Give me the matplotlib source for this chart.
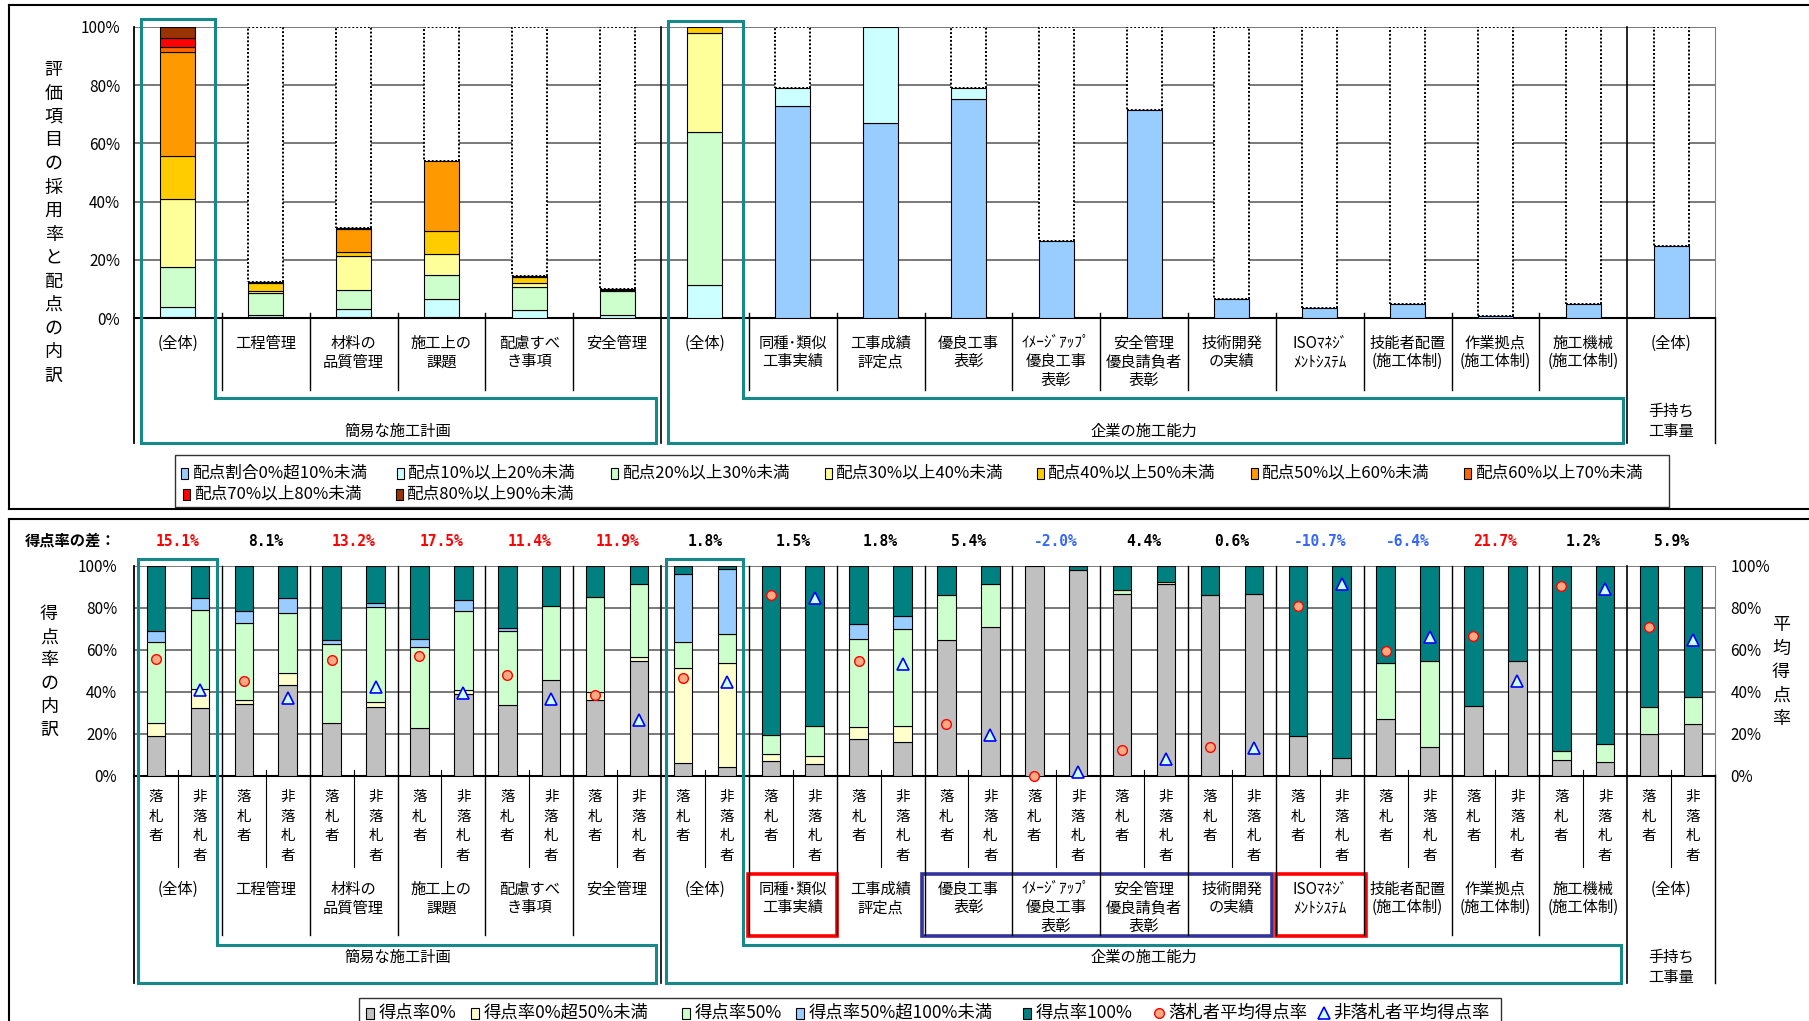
import matplotlib
matplotlib.use('Agg')
import matplotlib.pyplot as plt
import matplotlib.transforms as mtransforms
from matplotlib.patches import Rectangle, Polygon
import numpy as np

plt.rcParams['font.family'] = ['Noto Sans CJK JP', 'DejaVu Sans']

# ---------------- data ----------------
cat_labels = ['(全体)', '工程管理', '材料の\n品質管理', '施工上の\n課題', '配慮すべ\nき事項', '安全管理',
              '(全体)', '同種･類似\n工事実績', '工事成績\n評定点', '優良工事\n表彰',
              'ｲﾒｰｼﾞｱｯﾌﾟ\n優良工事\n表彰', '安全管理\n優良請負者\n表彰', '技術開発\nの実績',
              'ISOﾏﾈｼﾞ\nﾒﾝﾄｼｽﾃﾑ', '技能者配置\n(施工体制)', '作業拠点\n(施工体制)', '施工機械\n(施工体制)',
              '(全体)']
group_labels = ['簡易な施工計画', '企業の施工能力', '手持ち\n工事量']
group_spans = [(0, 6), (6, 17), (17, 18)]

# top: adoption rate of each item, split by share of points (%)
pts_names = ['配点割合0%超10%未満', '配点10%以上20%未満', '配点20%以上30%未満', '配点30%以上40%未満',
             '配点40%以上50%未満', '配点50%以上60%未満', '配点60%以上70%未満', '配点70%以上80%未満',
             '配点80%以上90%未満']
pts_colors = ['#99CCFF', '#CCFFFF', '#CCFFCC', '#FFFF99', '#FFCC00', '#FF9900', '#FF6600', '#FF0000', '#993300']
pts_00_10 = [0.3, 0.3, 0.5, 0.3, 0.0, 0.0, 0.0, 72.8, 66.9, 75.3, 26.5, 71.4, 6.5, 3.5, 4.8, 0.8, 4.8, 24.7]
pts_10_20 = [3.6, 0.9, 2.6, 6.2, 2.9, 1.3, 11.4, 6.3, 32.9, 3.6, 0, 0, 0, 0, 0, 0, 0, 0]
pts_20_30 = [13.6, 7.4, 6.5, 8.2, 7.7, 8.1, 52.4, 0, 0, 0, 0, 0, 0, 0, 0, 0, 0, 0]
pts_30_40 = [23.3, 0.9, 11.8, 7.4, 1.5, 0.3, 34.1, 0, 0, 0, 0, 0, 0, 0, 0, 0, 0, 0]
pts_40_50 = [14.9, 2.7, 1.2, 7.7, 2.0, 0.5, 2.1, 0, 0, 0, 0, 0, 0, 0, 0, 0, 0, 0]
pts_50_60 = [35.6, 0.4, 7.9, 24.0, 0.3, 0, 0, 0, 0, 0, 0, 0, 0, 0, 0, 0, 0, 0]
pts_60_70 = [1.8, 0, 0.4, 0, 0, 0, 0, 0, 0, 0, 0, 0, 0, 0, 0, 0, 0, 0]
pts_70_80 = [2.9, 0, 0, 0, 0, 0, 0, 0, 0, 0, 0, 0, 0, 0, 0, 0, 0, 0]
pts_80_90 = [4.0, 0, 0, 0, 0, 0, 0, 0, 0, 0, 0, 0, 0, 0, 0, 0, 0, 0]
pts_bands = [pts_00_10, pts_10_20, pts_20_30, pts_30_40, pts_40_50, pts_50_60, pts_60_70, pts_70_80, pts_80_90]

# bottom: score-rate breakdown, winners (落札者) and non-winners (非落札者)
score_names = ['得点率0%', '得点率0%超50%未満', '得点率50%', '得点率50%超100%未満', '得点率100%']
score_colors = ['#C0C0C0', '#FFFFCC', '#CCFFCC', '#99CCFF', '#008080']
win_0    = [19.0, 34.0, 24.9, 22.5, 33.5, 36.0, 5.9, 7.1, 17.3, 64.4, 100.0, 86.3, 86.0, 18.7, 27.0, 33.3, 7.5, 20.0]
win_lt50 = [5.9, 1.9, 0, 0, 0, 3.8, 45.2, 3.1, 6.0, 0, 0, 0, 0, 0, 0, 0, 0, 0]
win_50   = [38.9, 36.6, 37.6, 38.9, 35.5, 45.3, 12.4, 9.2, 41.8, 21.8, 0, 2.1, 0, 0, 26.8, 0, 4.2, 12.5]
win_gt50 = [4.9, 5.9, 2.1, 3.5, 1.5, 0, 32.4, 0, 7.0, 0, 0, 0, 0, 0, 0, 0, 0, 0]
win_100  = [31.3, 21.6, 35.4, 35.1, 29.5, 14.9, 4.1, 80.6, 27.9, 13.8, 0, 11.6, 14.0, 81.3, 46.2, 66.7, 88.3, 67.5]
lose_0    = [32.1, 43.0, 32.7, 39.0, 45.4, 54.6, 4.0, 5.4, 16.2, 71.0, 97.8, 91.1, 86.3, 8.4, 13.5, 54.8, 6.3, 24.6]
lose_lt50 = [9.3, 5.7, 2.5, 1.8, 0, 2.1, 49.5, 4.1, 7.6, 0, 0, 0, 0, 0, 0, 0, 0, 0]
lose_50   = [37.3, 28.9, 45.0, 37.5, 35.6, 34.6, 14.0, 14.2, 46.2, 20.1, 0, 1.3, 0, 0, 41.1, 0, 8.6, 13.0]
lose_gt50 = [6.1, 7.2, 2.0, 5.4, 0, 0, 30.8, 0, 6.0, 0, 0, 0, 0, 0, 0, 0, 0, 0]
lose_100  = [15.2, 15.2, 17.8, 16.3, 19.0, 8.7, 1.7, 76.3, 24.0, 8.9, 2.2, 7.6, 13.7, 91.6, 45.4, 45.2, 85.1, 62.4]
win_avg  = [55.7, 45.0, 55.3, 57.1, 47.8, 38.3, 46.6, 85.9, 54.8, 24.6, 0.0, 12.4, 13.6, 80.8, 59.6, 66.6, 90.2, 70.6]
lose_avg = [40.6, 36.9, 42.1, 39.6, 36.4, 26.4, 44.8, 84.4, 53.0, 19.2, 2.0, 8.0, 13.0, 91.5, 66.0, 44.9, 89.0, 64.7]
score_diff = [15.1, 8.1, 13.2, 17.5, 11.4, 11.9, 1.8, 1.5, 1.8, 5.4, -2.0, 4.4, 0.6, -10.7, -6.4, 21.7, 1.2, 5.9]
bidder_labels = ['落札者', '非落札者']

# ---------------- figure ----------------
W, H = 1809, 1021
fig = plt.figure(figsize=(W / 100, H / 100), dpi=100)


def rect(x0, y0, x1, y1):
    return [x0 / W, 1 - y1 / H, (x1 - x0) / W, (y1 - y0) / H]


ax1 = fig.add_axes(rect(134, 26.7, 1715, 318.3))
ax2 = fig.add_axes(rect(134, 565.7, 1715, 775.7))
ax2r = ax2.twinx()
ov = fig.add_axes([0, 0, 1, 1])
ov.set_xlim(0, W)
ov.set_ylim(H, 0)
ov.axis('off')

t1 = mtransforms.blended_transform_factory(ax1.transData, ov.transData)
t2 = mtransforms.blended_transform_factory(ax2.transData, ov.transData)

yt = [0, 20, 40, 60, 80, 100]
ylab = ['%d%%' % v for v in yt]

# ---- top panel
n = len(cat_labels)
xc = np.arange(n) + 0.5
base = np.zeros(n)
for vals, col in zip(pts_bands, pts_colors):
    v = np.array(vals, dtype=float)
    m = v > 0
    ax1.bar(xc[m], v[m], 0.4, bottom=base[m], color=col, edgecolor='black', linewidth=0.8, zorder=3)
    base += v
rest = 100 - base
m = rest > 0.5
ax1.bar(xc[m], rest[m], 0.4, bottom=base[m], color='white', edgecolor='black',
        linewidth=1.4, linestyle=(0, (1, 1)), zorder=2)

ax1.set_xlim(0, n)
ax1.set_ylim(0, 100)
ax1.set_xticks([])
ax1.set_yticks(yt)
ax1.set_yticklabels(ylab)
ax1.tick_params(axis='y', length=0, pad=10, labelsize=11)
ax1.set_axisbelow(True)
ax1.yaxis.grid(True, color='#555555', lw=1.1)
ax1.spines['top'].set_visible(False)
ax1.spines['right'].set_color('#808080')
ax1.spines['left'].set_linewidth(1.3)
ax1.spines['bottom'].set_linewidth(1.5)

for b in range(1, n):
    if b in (6, 17):
        ov.plot([b, b], [26.7, 443], transform=t1, color='black', lw=1.2)
    else:
        ov.plot([b, b], [313, 390], transform=t1, color='black', lw=1)
ov.plot([0, 0], [318, 443], transform=t1, color='black', lw=1.3)
ov.plot([n, n], [318, 443], transform=t1, color='black', lw=1)

for i, lab in enumerate(cat_labels):
    for k, line in enumerate(lab.split('\n')):
        ov.text(i + 0.5, 343 + k * 18.8, line, transform=t1, ha='center', va='center', fontsize=11)

for (a, b), g in zip(group_spans, group_labels):
    lines = g.split('\n')
    for k, line in enumerate(lines):
        ov.text((a + b) / 2, 431 - (len(lines) - 1 - k) * 20, line, transform=t1,
                ha='center', va='center', fontsize=11)

teal = '#168A8A'
ov.add_patch(Polygon([(0.08, 19.3), (0.92, 19.3), (0.92, 398), (5.94, 398), (5.94, 443), (0.08, 443)],
                     closed=True, fill=False, ec=teal, lw=2.2, transform=t1))
ov.add_patch(Polygon([(6.08, 21), (6.93, 21), (6.93, 398), (16.95, 398), (16.95, 443), (6.08, 443)],
                     closed=True, fill=False, ec=teal, lw=2.2, transform=t1))

for k, ch in enumerate('評価項目の採用率と配点の内訳'):
    ov.text(53.6, 70 + k * 23.5, ch, ha='center', va='center', fontsize=13)

# top legend
leg1_x = [184.6, 400, 614.6, 828, 1040, 1254, 1467.7, 186.6, 399]
leg1_y = [473] * 7 + [494] * 2
ov.add_patch(Rectangle((174.7, 455), 1494.3, 51.7, fill=False, ec='#333333', lw=1))
for name, col, x, y in zip(pts_names, pts_colors, leg1_x, leg1_y):
    ov.add_patch(Rectangle((x - 3.5, y - 5.5), 7, 11, fc=col, ec='black', lw=0.8))
    ov.text(x + 7, y, name, ha='left', va='center', fontsize=12)

# ---- bottom panel
win_x = np.arange(n) * 2 + 0.5
lose_x = win_x + 1
for xs, bands in ((win_x, [win_0, win_lt50, win_50, win_gt50, win_100]),
                  (lose_x, [lose_0, lose_lt50, lose_50, lose_gt50, lose_100])):
    base = np.zeros(n)
    for vals, col in zip(bands, score_colors):
        v = np.array(vals, dtype=float)
        m = v > 0
        ax2.bar(xs[m], v[m], 0.42, bottom=base[m], color=col, edgecolor='black', linewidth=0.8, zorder=3)
        base += v

ax2.plot(win_x, win_avg, 'o', ls='none', ms=7, mfc='#FFAA80', mec='#FF0000', mew=1, zorder=5, clip_on=False)
ax2.plot(lose_x, lose_avg, '^', ls='none', ms=8, mfc='#CCFFFF', mec='#0000FF', mew=1.2, zorder=5, clip_on=False)

ax2.set_xlim(0, 2 * n)
ax2.set_ylim(0, 100)
ax2.set_xticks([])
ax2.set_yticks(yt)
ax2.set_yticklabels(ylab)
ax2.tick_params(axis='y', length=0, pad=12, labelsize=11)
ax2.set_axisbelow(True)
ax2.yaxis.grid(True, color='#555555', lw=1.1)
ax2.spines['top'].set_visible(False)
ax2.spines['right'].set_color('#808080')
ax2.spines['left'].set_linewidth(1.3)
ax2.spines['bottom'].set_linewidth(1.5)
ax2r.set_ylim(0, 100)
ax2r.set_yticks(yt)
ax2r.set_yticklabels(ylab)
ax2r.tick_params(axis='y', length=0, pad=11, labelsize=11)
for s in ax2r.spines.values():
    s.set_visible(False)

for b in range(1, 2 * n):
    if b % 2 == 1:
        ov.plot([b, b], [770, 867], transform=t2, color='black', lw=0.8)
    elif b // 2 in (6, 17):
        ov.plot([b, b], [565.7, 983], transform=t2, color='black', lw=1.2)
    else:
        ov.plot([b, b], [565.7, 935], transform=t2, color='black', lw=1)
ov.plot([0, 0], [775, 983], transform=t2, color='black', lw=1.3)
ov.plot([2 * n, 2 * n], [775, 983], transform=t2, color='black', lw=1)

for i in range(n):
    for xs, lab in ((win_x, bidder_labels[0]), (lose_x, bidder_labels[1])):
        for k, ch in enumerate(lab):
            ov.text(xs[i], 797 + k * 19.6, ch, transform=t2, ha='center', va='center', fontsize=10.5)
    for k, line in enumerate(cat_labels[i].split('\n')):
        ov.text(2 * i + 1, 889 + k * 18.8, line, transform=t2, ha='center', va='center', fontsize=11)
    d = score_diff[i]
    col = '#FF0000' if d >= 10 else ('#3366FF' if d < 0 else 'black')
    ov.text(2 * i + 1, 541, '%.1f%%' % d, transform=t2, ha='center', va='center', color=col,
            fontsize=10.5, fontweight='bold', family='DejaVu Sans Mono')
ov.text(71, 541, '得点率の差：', ha='center', va='center', fontsize=11, fontweight='bold')

for (a, b), g in zip(group_spans, group_labels):
    for k, line in enumerate(g.split('\n')):
        ov.text(a + b, 957 + k * 20.5, line, transform=t2, ha='center', va='center', fontsize=11)

ov.add_patch(Polygon([(0.09, 559), (1.88, 559), (1.88, 945), (11.88, 945), (11.88, 983), (0.09, 983)],
                     closed=True, fill=False, ec=teal, lw=2.2, transform=t2))
ov.add_patch(Polygon([(12.11, 559), (13.87, 559), (13.87, 945), (33.87, 945), (33.87, 983), (12.11, 983)],
                     closed=True, fill=False, ec=teal, lw=2.2, transform=t2))
ov.add_patch(Rectangle((13.98, 874), 2.02, 62, fill=False, ec='#FF0000', lw=2.6, transform=t2))
ov.add_patch(Rectangle((26.0, 874), 2.05, 62, fill=False, ec='#FF0000', lw=2.6, transform=t2))
ov.add_patch(Rectangle((17.95, 874), 7.97, 62, fill=False, ec='#333399', lw=2.6, transform=t2))

for k, ch in enumerate('得点率の内訳'):
    ov.text(49, 614 + k * 23.2, ch, ha='center', va='center', fontsize=13)
for k, ch in enumerate('平均得点率'):
    ov.text(1781, 625 + k * 23.5, ch, ha='center', va='center', fontsize=13)

# bottom legend
ov.add_patch(Rectangle((359, 998), 1142, 40, fill=False, ec='#333333', lw=1))
leg2_x = [370, 475, 686, 800, 1027]
for name, col, x in zip(score_names, score_colors, leg2_x):
    ov.add_patch(Rectangle((x - 4, 1013 - 5.5), 8, 11, fc=col, ec='black', lw=0.8))
    ov.text(x + 9, 1013, name, ha='left', va='center', fontsize=12.5)
ov.plot([1159], [1013], 'o', ms=7, mfc='#FFAA80', mec='#FF0000', mew=1)
ov.text(1168, 1013, '落札者平均得点率', ha='left', va='center', fontsize=12.5)
ov.plot([1324], [1013], '^', ms=8, mfc='#CCFFFF', mec='#0000FF', mew=1.2)
ov.text(1333, 1013, '非落札者平均得点率', ha='left', va='center', fontsize=12.5)

# panel frames
ov.plot([9, W], [4.7, 4.7], color='black', lw=1.5)
ov.plot([9, 9], [4.7, 509], color='black', lw=1.5)
ov.plot([9, W], [509, 509], color='black', lw=1.5)
ov.plot([9, W], [519, 519], color='black', lw=1.5)
ov.plot([9, 9], [519, H], color='black', lw=1.5)

fig.savefig('out.png', dpi=100)
